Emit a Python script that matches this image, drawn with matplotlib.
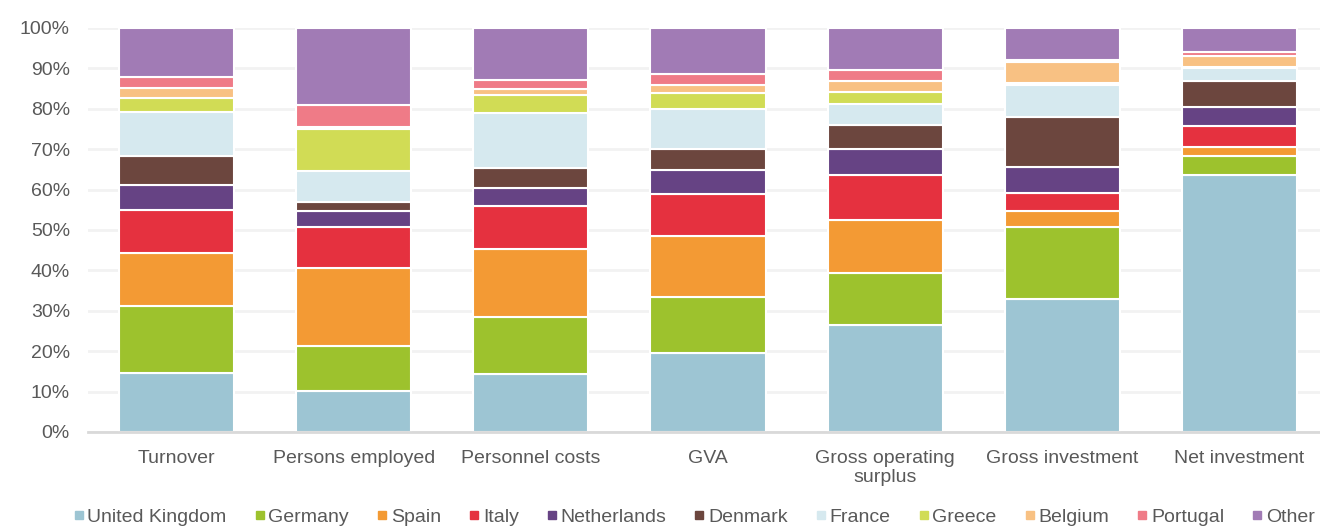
import numpy as np
import matplotlib
matplotlib.use("Agg")
import matplotlib.pyplot as plt
from matplotlib.lines import Line2D
from matplotlib.ticker import PercentFormatter

plt.rcParams['font.family'] = ['Liberation Sans', 'DejaVu Sans']

categories = ['Turnover', 'Persons employed', 'Personnel costs', 'GVA',
              'Gross operating\nsurplus', 'Gross investment', 'Net investment']

countries = ['United Kingdom', 'Germany', 'Spain', 'Italy', 'Netherlands', 'Denmark',
             'France', 'Greece', 'Belgium', 'Portugal', 'Other']

# shares in percent, one list per country, in the order of categories
united_kingdom = [14.7, 10.2, 14.4, 19.5, 26.4, 32.9, 63.5]
germany        = [16.5, 11.1, 14.1, 13.8, 13.0, 17.9, 4.8]
spain          = [13.0, 19.3, 16.7, 15.1, 13.1, 3.8, 2.3]
italy          = [10.7, 10.2, 10.7, 10.6, 11.0, 4.5, 5.2]
netherlands    = [6.2, 3.8, 4.5, 5.9, 6.5, 6.5, 4.6]
denmark        = [7.2, 2.4, 4.9, 5.1, 5.9, 12.4, 6.5]
france         = [11.0, 7.6, 13.7, 10.0, 5.2, 8.0, 3.2]
greece         = [3.4, 10.5, 4.3, 3.8, 3.1, 0.3, 0.2]
belgium        = [2.4, 0.5, 1.5, 2.0, 2.7, 5.3, 2.8]
portugal       = [2.8, 5.4, 2.3, 2.8, 2.7, 0.5, 0.9]
other          = [12.1, 19.0, 12.9, 11.4, 10.4, 7.9, 6.0]

series = [united_kingdom, germany, spain, italy, netherlands, denmark,
          france, greece, belgium, portugal, other]

colors = ['#9DC5D3', '#9DC22D', '#F39A34', '#E5313F', '#664384', '#6C463E',
          '#D6E9EF', '#D1DC55', '#F8C183', '#EF7B87', '#A17BB5']

fig = plt.figure(figsize=(13.2, 5.26), dpi=100)
ax = fig.add_axes([88 / 1320, 1 - 432 / 526, 1240 / 1320, 404 / 526])

x = np.arange(len(categories))
bottom = np.zeros(len(categories))
for name, vals, col in zip(countries, series, colors):
    vals = np.array(vals)
    ax.bar(x, vals, 0.65, bottom=bottom, color=col, edgecolor='white',
           linewidth=1.5, label=name, zorder=3)
    bottom += vals

ax.set_ylim(0, 100)
ax.set_xlim(-0.5, 6.5)
ax.set_yticks(np.arange(0, 101, 10))
ax.yaxis.set_major_formatter(PercentFormatter(decimals=0))
ax.set_xticks(x)
ax.set_xticklabels(categories, linespacing=1.15)
ax.tick_params(axis='both', length=0, labelsize=14, colors='#595959')
ax.tick_params(axis='y', pad=13)
ax.tick_params(axis='x', pad=13)
ax.grid(axis='y', color='#F2F2F2', linewidth=2, zorder=0)
for s in ['top', 'right', 'left']:
    ax.spines[s].set_visible(False)
ax.spines['bottom'].set_color('#D9D9D9')
ax.spines['bottom'].set_linewidth(2)
ax.spines['bottom'].set_zorder(4)

handles = [Line2D([], [], marker='s', linestyle='', markersize=6,
                  markerfacecolor=c, markeredgecolor=c) for c in colors]
fig.legend(handles, countries, loc='lower center', ncol=11, frameon=False,
           bbox_to_anchor=(0.526, -0.033), fontsize=14, handlelength=0.5,
           handletextpad=0.2, columnspacing=1.45, labelcolor='#595959')

fig.savefig('out.png', dpi=100)
